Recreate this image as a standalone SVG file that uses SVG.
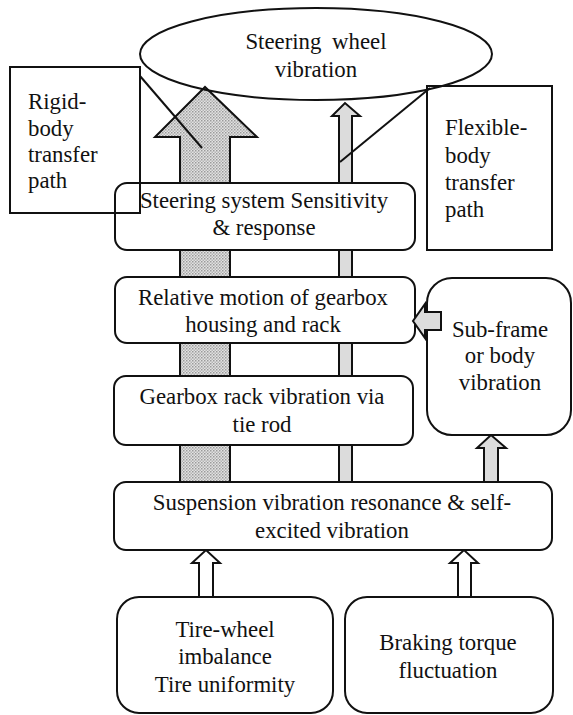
<svg xmlns="http://www.w3.org/2000/svg" width="573" height="715" viewBox="0 0 573 715">
<style>
.bx{fill:#fff;stroke:#111;stroke-width:2}
.open{fill:none;stroke:#111;stroke-width:2}
.t{font-family:"Liberation Serif","Times New Roman",serif;font-size:22.8px;fill:#111}
.m{text-anchor:middle}
.hatch{fill:url(#dots);stroke:#111;stroke-width:2;stroke-linejoin:miter}
.lg{fill:#dcdcdc;stroke:#111;stroke-width:2}
.hol{fill:#fff;stroke:#111;stroke-width:2}
.ln{stroke:#111;stroke-width:2;fill:none}
</style>
<defs>
<pattern id="dots" width="3" height="3" patternUnits="userSpaceOnUse">
<rect width="3" height="3" fill="#e2e2e2"/>
<rect width="1.5" height="1.5" fill="#9a9a9a"/>
<rect x="1.5" y="1.5" width="1.5" height="1.5" fill="#b4b4b4"/>
</pattern>
</defs>
<rect width="573" height="715" fill="#fff"/>
<g id="n-steering-wheel">
<ellipse cx="316" cy="54" rx="176" ry="46" fill="#fff"/>
</g>
<g id="connectors">
<path class="hatch" d="M180,482 L180,137 L155,137 L205,87 L257,137 L230,137 L230,482 Z"/>
<path class="lg" d="M339,482 L339,116 L332,116 L345,103 L360,116 L352,116 L352,482 Z"/>
<path class="lg" d="M484,482 L484,448 L477,448 L491,435 L506,448 L498,448 L498,482 Z"/>
<path class="hol" d="M199,597 L199,563 L192,563 L206,550 L220,563 L213,563 L213,597 Z"/>
<path class="hol" d="M458,597 L458,563 L450,563 L464,550 L478,563 L471,563 L471,597 Z"/>
</g>
<ellipse cx="316" cy="54" rx="176" ry="46" class="open"/>
<text class="t m" x="316" y="49" word-spacing="5">Steering wheel</text>
<text class="t m" x="316" y="77">vibration</text>
<g id="n-steering-system">
<rect class="bx" x="115" y="183" width="300" height="67" rx="12"/>
<text class="t m" x="264" y="208">Steering system Sensitivity</text>
<text class="t m" x="264" y="235">&amp; response</text>
</g>
<g id="n-relative-motion">
<rect class="bx" x="115" y="277" width="300" height="66" rx="12"/>
<text class="t m" x="263" y="305">Relative motion of gearbox</text>
<text class="t m" x="263" y="332">housing and rack</text>
</g>
<g id="n-gearbox-rack">
<rect class="bx" x="114" y="376" width="299" height="69" rx="12"/>
<text class="t m" x="262" y="404">Gearbox rack vibration via</text>
<text class="t m" x="262" y="432">tie rod</text>
</g>
<g id="n-subframe">
<rect class="bx" x="427" y="278" width="144" height="157" rx="25"/>
<text class="t m" x="500" y="337">Sub-frame</text>
<text class="t m" x="500" y="363">or body</text>
<text class="t m" x="500" y="390">vibration</text>
</g>
<g id="n-suspension">
<rect class="bx" x="114" y="482" width="438" height="68" rx="12"/>
<text class="t m" x="332" y="510">Suspension vibration resonance &amp; self-</text>
<text class="t m" x="332" y="538">excited vibration</text>
</g>
<g id="n-tire">
<rect class="bx" x="117" y="597" width="216" height="116" rx="22"/>
<text class="t m" x="225" y="637">Tire-wheel</text>
<text class="t m" x="225" y="664">imbalance</text>
<text class="t m" x="225" y="692">Tire uniformity</text>
</g>
<g id="n-braking">
<rect class="bx" x="345" y="597" width="208" height="116" rx="22"/>
<text class="t m" x="448" y="650">Braking torque</text>
<text class="t m" x="448" y="678">fluctuation</text>
</g>
<g id="connectors-2">
<path class="lg" d="M441,312 L425,312 L425,304 L413,321 L425,338 L425,330 L441,330 Z"/>
<line class="ln" x1="140" y1="76" x2="202" y2="148"/>
<line class="ln" x1="340" y1="162" x2="430" y2="88"/>
</g>
<g id="n-rigid">
<rect class="open" x="10" y="67" width="130" height="146"/>
<text class="t" x="28" y="109">Rigid-</text>
<text class="t" x="28" y="136">body</text>
<text class="t" x="28" y="162">transfer</text>
<text class="t" x="28" y="188">path</text>
</g>
<g id="n-flexible">
<rect class="open" x="427" y="86" width="125" height="164"/>
<text class="t" x="445" y="135">Flexible-</text>
<text class="t" x="445" y="163">body</text>
<text class="t" x="445" y="190">transfer</text>
<text class="t" x="445" y="217">path</text>
</g>
</svg>
